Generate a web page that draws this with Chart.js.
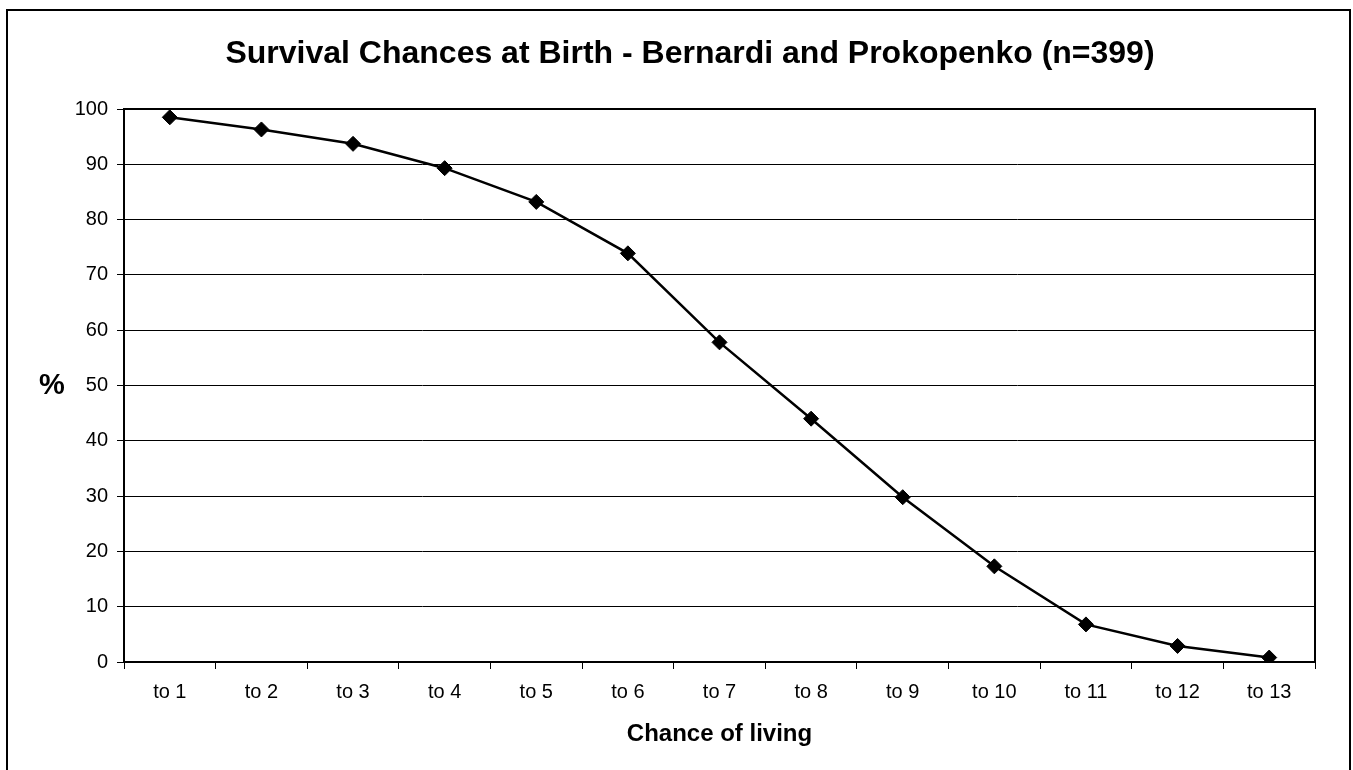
<!DOCTYPE html>
<html lang="en">
<head>
    <meta charset="UTF-8">
    <title>Survival Chances at Birth</title>
    <script src="https://cdn.jsdelivr.net/npm/chart.js"></script>
    <style>
        html, body { margin: 0; padding: 0; background: #fff; }
        #wrap { width: 1353px; height: 770px; }
    </style>
</head>
<body>
    <div id="wrap"><canvas id="myChart" width="1353" height="770"></canvas></div>

    <script>
        // data
        const categories = ['to 1', 'to 2', 'to 3', 'to 4', 'to 5', 'to 6', 'to 7',
                            'to 8', 'to 9', 'to 10', 'to 11', 'to 12', 'to 13'];
        const survivalPct = [98.5, 96.3, 93.7, 89.3, 83.2, 73.9, 57.8, 44.0, 29.8, 17.3, 6.8, 2.9, 0.8];
        const yMin = 0;
        const yMax = 100;
        const yStep = 10;

        const chartTitle = 'Survival Chances at Birth - Bernardi and Prokopenko (n=399)';
        const FONT = "Arial, 'Liberation Sans', Helvetica, sans-serif";

        // white background, outer frame, plot frame, title and the upright "%" label
        const framePlugin = {
            id: 'frame',
            beforeDraw(chart) {
                const ctx = chart.ctx;
                ctx.save();
                ctx.fillStyle = '#fff';
                ctx.fillRect(0, 0, chart.width, chart.height);
                ctx.restore();
            },
            afterDraw(chart) {
                const ctx = chart.ctx;
                const a = chart.chartArea;
                ctx.save();
                ctx.strokeStyle = '#000';
                ctx.lineWidth = 2;
                ctx.strokeRect(7, 10, 1343, 800);
                ctx.strokeRect(a.left, a.top, a.right - a.left, a.bottom - a.top);

                ctx.fillStyle = '#000';
                ctx.textAlign = 'center';
                ctx.textBaseline = 'alphabetic';
                ctx.font = 'bold 32px ' + FONT;
                ctx.fillText(chartTitle, 690, 63);

                ctx.font = 'bold 29px ' + FONT;
                ctx.textBaseline = 'middle';
                ctx.fillText('%', 52, 386);
                ctx.restore();
            }
        };

        const ctx = document.getElementById('myChart').getContext('2d');
        new Chart(ctx, {
            type: 'line',
            data: {
                labels: categories,
                datasets: [{
                    label: 'Survival',
                    data: survivalPct,
                    borderColor: '#000',
                    borderWidth: 2.5,
                    pointStyle: 'rectRot',
                    pointRadius: 7.5,
                    pointBackgroundColor: '#000',
                    pointBorderColor: '#000',
                    pointBorderWidth: 1,
                    tension: 0,
                    fill: false
                }]
            },
            options: {
                responsive: false,
                animation: false,
                layout: {
                    padding: { left: 0, right: 38, top: 109, bottom: 0 }
                },
                plugins: {
                    legend: { display: false },
                    tooltip: { enabled: false },
                    title: { display: false }
                },
                scales: {
                    x: {
                        offset: true,
                        grid: {
                            offset: true,
                            drawOnChartArea: false,
                            drawTicks: true,
                            tickLength: 7,
                            color: '#000'
                        },
                        border: { color: '#000', width: 2 },
                        ticks: {
                            color: '#000',
                            padding: 11,
                            maxRotation: 0,
                            font: { family: FONT, size: 20 }
                        },
                        title: {
                            display: true,
                            text: 'Chance of living',
                            color: '#000',
                            font: { family: FONT, size: 24, weight: 'bold' },
                            padding: { top: 0, bottom: 21 }
                        },
                        afterFit(scale) { scale.height = 108; }
                    },
                    y: {
                        min: yMin,
                        max: yMax,
                        grid: {
                            color: '#000',
                            lineWidth: 1,
                            tickLength: 7
                        },
                        border: { color: '#000', width: 2 },
                        ticks: {
                            stepSize: yStep,
                            color: '#000',
                            padding: 9,
                            font: { family: FONT, size: 20 }
                        },
                        afterFit(scale) { scale.width = 124; }
                    }
                }
            },
            plugins: [framePlugin]
        });
    </script>
</body>
</html>
